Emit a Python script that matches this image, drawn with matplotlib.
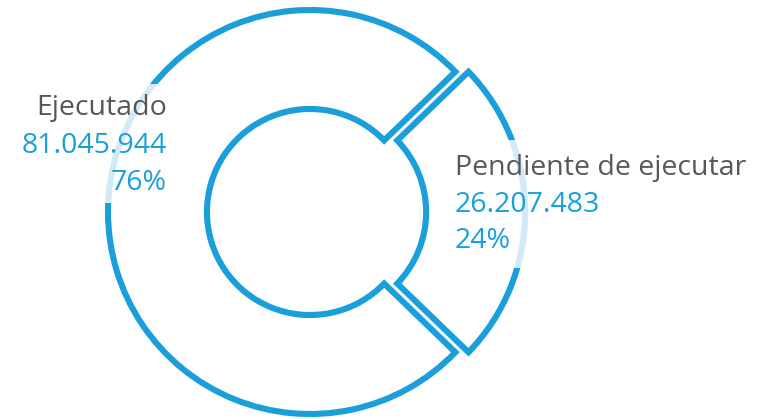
import matplotlib
matplotlib.use("Agg")
import matplotlib.pyplot as plt
from matplotlib.patches import Rectangle

# Data
categories = ["Ejecutado", "Pendiente de ejecutar"]
values = [81045944, 26207483]
value_labels = ["81.045.944", "26.207.483"]
pct_labels = ["76%", "24%"]

BLUE = "#1a9fdb"
GRAY = "#575757"
W, H = 775, 419

plt.rcParams['font.family'] = ['Open Sans', 'DejaVu Sans']

fig = plt.figure(figsize=(W / 100, H / 100), dpi=100)
ax = fig.add_axes([0, 0, 1, 1])
R = 202.0
cx, cy = 310.0, H - 212.0
ax.set_xlim(-cx / R, (W - cx) / R)
ax.set_ylim(-cy / R, (H - cy) / R)
ax.axis('off')

total = sum(values)
start = 360 * values[1] / total / 2
ax.pie(values, startangle=start, counterclock=True, explode=[0, 0.065],
       radius=1.0,
       wedgeprops=dict(width=0.49, facecolor='white', edgecolor=BLUE,
                       linewidth=4.4, joinstyle='miter'))
ax.set_xlim(-cx / R, (W - cx) / R)
ax.set_ylim(-cy / R, (H - cy) / R)

def fx(px):
    return px / W

def fy(py):
    return (H - py) / H

# semi-transparent label backgrounds
for (x0, y0, x1, y1) in [(10, 84, 172, 203), (448, 140, 764, 268)]:
    ax.add_patch(Rectangle((fx(x0), fy(y1)), fx(x1) - fx(x0), fy(y0) - fy(y1),
                           transform=fig.transFigure, facecolor='white',
                           edgecolor='none', alpha=0.8, zorder=5))

fs = 20.5
# left labels
fig.text(fx(167), fy(115), categories[0], ha='right', va='baseline', color=GRAY, fontsize=fs, zorder=6)
fig.text(fx(167), fy(153), value_labels[0], ha='right', va='baseline', color=BLUE, fontsize=fs, zorder=6)
fig.text(fx(167), fy(190), pct_labels[0], ha='right', va='baseline', color=BLUE, fontsize=fs, zorder=6)
# right labels
fig.text(fx(455), fy(175), categories[1], ha='left', va='baseline', color=GRAY, fontsize=fs, zorder=6)
fig.text(fx(455), fy(212), value_labels[1], ha='left', va='baseline', color=BLUE, fontsize=fs, zorder=6)
fig.text(fx(455), fy(248), pct_labels[1], ha='left', va='baseline', color=BLUE, fontsize=fs, zorder=6)

fig.savefig("out.png", dpi=100, facecolor='white')
